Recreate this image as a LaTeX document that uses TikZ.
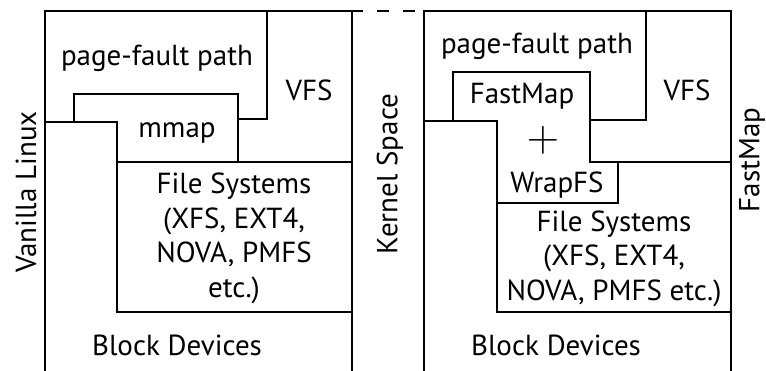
\documentclass[tikz,border=0pt]{standalone}
\usepackage{graphicx}
\usepackage{fontspec}
\setmainfont{PT Sans}
\usetikzlibrary{positioning}

\begin{document}
\begin{tikzpicture}[x=1pt, y=-1pt,
    wall/.style={line width=1.8pt, line cap=rect},
    gap/.style={line width=1.8pt, dash pattern=on 11pt off 14pt on 12pt off 14pt on 12pt off 20pt},
    layer/.style={font=\fontsize{29}{34.5}\selectfont, align=center, inner sep=0pt, anchor=base},
    side/.style={font=\fontsize{29}{34.5}\selectfont, inner sep=0pt, rotate=90}
]
\useasboundingbox (0,0) rectangle (766,370);

% Vanilla Linux stack
\draw[wall] (45,370) -- (45,11) -- (352,11) -- (352,370);
\draw[wall] (267,11) -- (267,119) -- (238,119);
\draw[wall] (74,122) -- (74,94) -- (238,94) -- (238,162);
\draw[wall] (45,122) -- (117,122) -- (117,312) -- (352,312);
\draw[wall] (117,162) -- (352,162);

% kernel space boundary
\draw[gap] (352,11) -- (424,11);

% FastMap stack
\draw[wall] (424,370) -- (424,11) -- (731,11) -- (731,370);
\draw[wall] (646,11) -- (646,120) -- (590,120);
\draw[wall] (453,121) -- (453,72) -- (590,72) -- (590,162) -- (731,162);
\draw[wall] (424,121) -- (497,121) -- (497,312) -- (731,312);
\draw[wall] (618,162) -- (618,203) -- (497,203);

% Layer labels, left
\node[layer] (pfault) at (157,65) {page-fault path};
\node[layer] (vfs) at (309,100) {VFS};
\node[layer] (mmap) at (177,137) {mmap};
\node[layer] (fs) at (234,297) {File Systems\\(XFS, EXT4,\\NOVA, PMFS\\etc.)};
\node[layer] (block) at (177,355) {Block Devices};

% Layer labels, right
\node[layer] (fmpfault) at (537,53) {page-fault path};
\node[layer] (fmvfs) at (687,100) {VFS};
\node[layer] (fastmap) at (522,103) {FastMap};
\node[layer] (plus) at (543,151) {\scalebox{1.8}{$+$}};
\node[layer] (wrapfs) at (557,192) {WrapFS};
\node[layer] (fmfs) at (614,300) {File Systems\\(XFS, EXT4,\\NOVA, PMFS etc.)};
\node[layer] (fmblock) at (556,355) {Block Devices};

% Side labels
\node[side] (vanilla) at (26,192) {Vanilla Linux};
\node[side] (kernel) at (390,174) {Kernel Space};
\node[side] (fmside) at (752,160) {FastMap};

\end{tikzpicture}
\end{document}
